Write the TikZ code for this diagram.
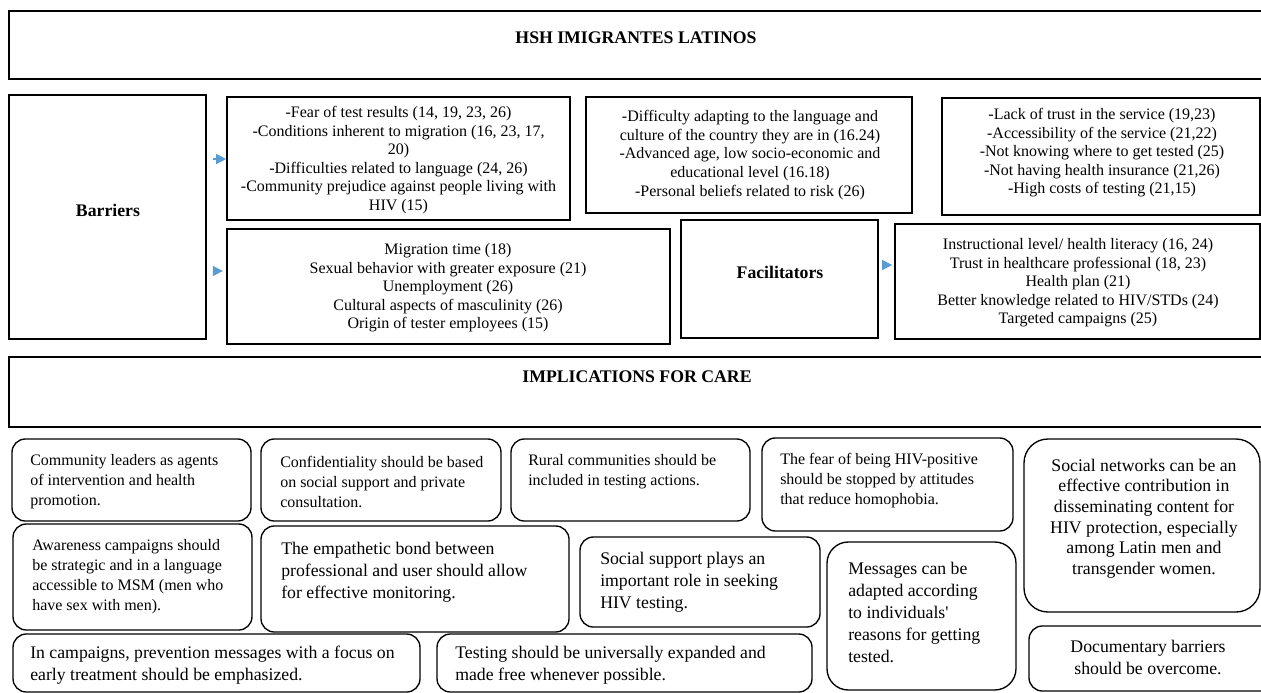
\documentclass[tikz,border=0pt]{standalone}
\usepackage{fontspec}
\setmainfont{Liberation Serif}[Ligatures=TeXOff]
\usetikzlibrary{arrows.meta,fit}
\definecolor{arrowblue}{RGB}{91,155,213}
\begin{document}
\begin{tikzpicture}[x=0.75pt, y=-0.75pt,
	frame/.style={draw=black, line width=1.2pt, inner sep=0pt},
	card/.style={draw=black, line width=1pt, rounded corners=10pt, inner sep=0pt},
	head/.style={font=\fontsize{13.3}{16}\selectfont\bfseries},
	list/.style={align=center, inner sep=0pt, font=\fontsize{12}{13.9}\selectfont},
	note/.style={align=left, anchor=west, inner sep=0pt, font=\fontsize{12}{15}\selectfont},
	bignote/.style={note, font=\fontsize{13.3}{16.5}\selectfont},
	arr/.style={-{Triangle[length=7.5pt,width=7.5pt]}, arrowblue, line width=0.9pt}]
	\useasboundingbox (0,0) rectangle (1261,693);
	\clip (0,0) rectangle (1261,693);

	% 1. title band
	\node[frame, fit={(9,11) (1280,79)}] (top) {};
	\node[head] (hsh) at (636,38) {HSH IMIGRANTES LATINOS};

	% 2. barriers and facilitators
	\node[frame, fit={(9,95) (206,339)}] (barr) {};
	\node[head] (barrtxt) at (108,210) {Barriers};

	\node[frame, fit={(227,97) (570,220)}] (b1) {};
	\node[list] (b1txt) at (398.5,160) {-Fear of test results (14, 19, 23, 26)\\-Conditions inherent to migration (16, 23, 17,\\20)\\-Difficulties related to language (24, 26)\\-Community prejudice against people living with\\HIV (15)};

	\node[frame, fit={(586,97) (912,213)}] (b2) {};
	\node[list] (b2txt) at (750,155) {-Difficulty adapting to the language and\\culture of the country they are in (16.24)\\-Advanced age, low socio-economic and\\educational level (16.18)\\-Personal beliefs related to risk (26)};

	\node[frame, fit={(942,98) (1260,215)}] (b3) {};
	\node[list] (b3txt) at (1102,153) {-Lack of trust in the service (19,23)\\-Accessibility of the service (21,22)\\-Not knowing where to get tested (25)\\-Not having health insurance (21,26)\\-High costs of testing (21,15)};

	\node[frame, fit={(227,229) (670,344)}] (b4) {};
	\node[list] (b4txt) at (448,288) {Migration time (18)\\Sexual behavior with greater exposure (21)\\Unemployment (26)\\Cultural aspects of masculinity (26)\\Origin of tester employees (15)};

	\node[frame, fit={(681,220) (878,338)}] (fac) {};
	\node[head] (factxt) at (780,272) {Facilitators};

	\node[frame, fit={(895,224) (1260,339)}] (f1) {};
	\node[list] (f1txt) at (1078,283) {Instructional level/ health literacy (16, 24)\\Trust in healthcare professional (18, 23)\\Health plan (21)\\Better knowledge related to HIV/STDs (24)\\Targeted campaigns (25)};

	% small blue pointers
	\draw[arr, shorten <=5pt] (barr.east |- 0,159) -- (b1.west |- 0,159);
	\draw[arr, shorten <=4.5pt, shorten >=2.5pt] (barr.east |- 0,271) -- (b4.west |- 0,271);
	\draw[arr, shorten <=3.5pt, shorten >=1.5pt] (fac.east |- 0,265) -- (f1.west |- 0,265);

	% 3. implications for care
	\node[frame, fit={(9,357) (1280,427)}] (impl) {};
	\node[head] (impltxt) at (637,377) {IMPLICATIONS FOR CARE};

	\node[card, fit={(12,439) (251,521)}] (c1) {};
	\node[note] (c1txt) at (30,482) {Community leaders as agents\\of intervention and health\\promotion.};

	\node[card, fit={(261,439) (501,521)}] (c2) {};
	\node[note] (c2txt) at (280,482) {Confidentiality should be based\\on social support and private\\consultation.};

	\node[card, fit={(511,439) (750,521)}] (c3) {};
	\node[note] (c3txt) at (528,471.5) {Rural communities should be\\included in testing actions.};

	\node[card, fit={(762,438) (1013,531)}] (c4) {};
	\node[note] (c4txt) at (780,481) {The fear of being HIV-positive\\should be stopped by attitudes\\that reduce homophobia.};

	\node[card, rounded corners=18pt, fit={(1024,439) (1260,612)}] (c5) {};
	\node[bignote, align=center, anchor=center, font=\fontsize{13.3}{15.4}\selectfont] (c5txt) at (1144,518.5) {Social networks can be an\\effective contribution in\\disseminating content for\\HIV protection, especially\\among Latin men and\\transgender women.};

	\node[card, fit={(13,524) (252,630)}] (c6) {};
	\node[note] (c6txt) at (32,577) {Awareness campaigns should\\be strategic and in a language\\accessible to MSM (men who\\have sex with men).};

	\node[card, fit={(261,526) (569,632)}] (c7) {};
	\node[bignote] (c7txt) at (281,572.5) {The empathetic bond between\\professional and user should allow\\for effective monitoring.};

	\node[card, fit={(580,537) (820,627)}] (c8) {};
	\node[bignote] (c8txt) at (600,582) {Social support plays an\\important role in seeking\\HIV testing.};

	\node[card, rounded corners=16pt, fit={(827,542) (1016,690)}] (c9) {};
	\node[bignote] (c9txt) at (848,612.5) {Messages can be\\adapted according\\to individuals'\\reasons for getting\\tested.};

	\node[card, fit={(13,634) (420,692)}] (c10) {};
	\node[bignote] (c10txt) at (30,665) {In campaigns, prevention messages with a focus on\\early treatment should be emphasized.};

	\node[card, fit={(437,634) (812,692)}] (c11) {};
	\node[bignote] (c11txt) at (455,665) {Testing should be universally expanded and\\made free whenever possible.};

	\node[card, fit={(1029,626) (1280,691)}] (c12) {};
	\node[bignote, align=center, anchor=center] (c12txt) at (1148,657.5) {Documentary barriers\\should be overcome.};
\end{tikzpicture}
\end{document}
